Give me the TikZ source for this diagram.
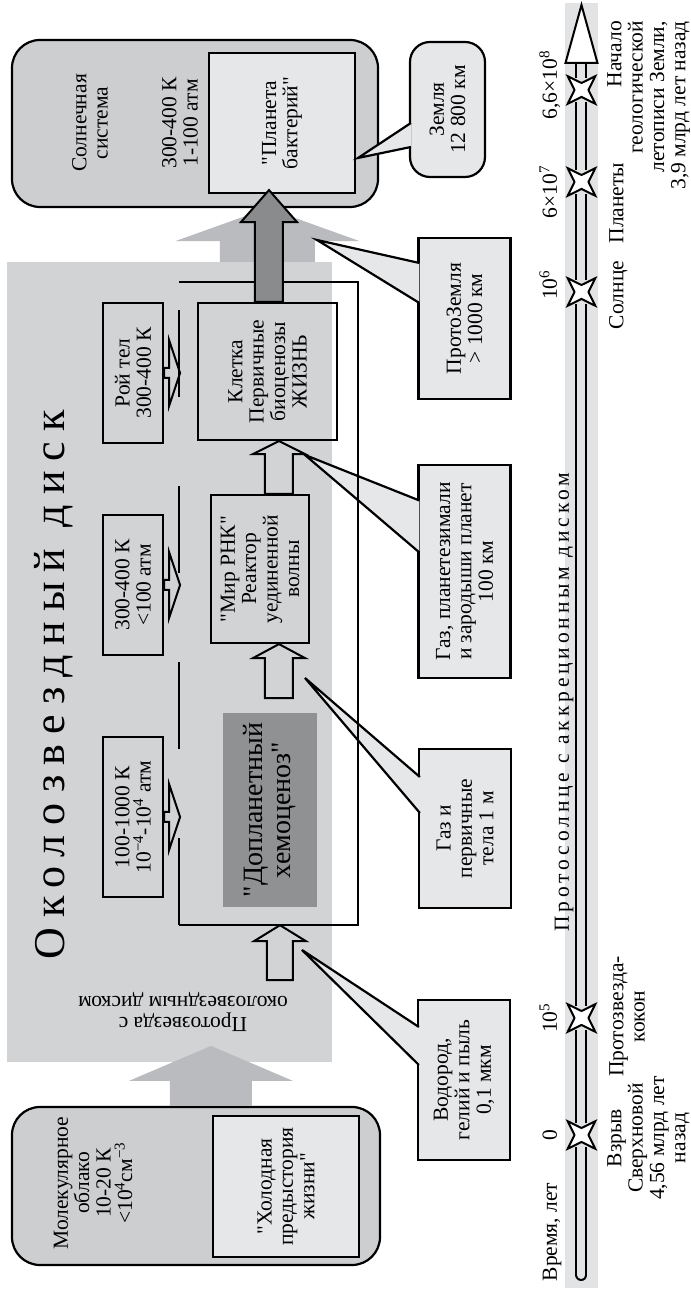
\documentclass[tikz,border=0pt]{standalone}
\usepackage{fontspec}
\setmainfont{Liberation Serif}[Ligatures=TeXOff]
\newfontfamily\widebig[LetterSpace=23, Ligatures=TeXOff]{Liberation Serif}
\newfontfamily\widesmall[LetterSpace=18, Ligatures=TeXOff]{Liberation Serif}
\usetikzlibrary{shapes.geometric, calc}

\definecolor{diskgray}{RGB}{210,211,213}
\definecolor{boxgray}{RGB}{205,206,208}
\definecolor{lightbox}{RGB}{230,231,233}
\definecolor{darkbox}{RGB}{144,145,147}
\definecolor{bigarrow}{RGB}{186,187,190}
\definecolor{darkarrow}{RGB}{138,139,141}
\definecolor{bandgray}{RGB}{226,227,229}

\begin{document}
\begin{tikzpicture}[
        x=1pt, y=1pt,
        rotate=90, transform shape,
        font=\fontsize{21.5}{21.4}\selectfont,
        txt/.style={align=center},
        roundbox/.style={
            rectangle,
            rounded corners=28pt,
            draw,
            line width=2.2pt,
            fill=boxgray
        },
        plainbox/.style={
            rectangle,
            draw,
            line width=2.2pt,
            fill=lightbox,
            align=center
        },
        tempbox/.style={
            rectangle,
            draw,
            line width=2.2pt,
            minimum height=60pt,
            align=center
        },
        stagebox/.style={
            rectangle,
            draw,
            line width=2.2pt,
            align=center
        },
        callbox/.style={
            rectangle,
            draw,
            line width=2.2pt,
            fill=lightbox,
            minimum height=92pt,
            align=center
        },
        blockarrow/.style n args={3}{
            to path={
                ($(\tikztostart)!#1!90:(\tikztotarget)$)
                -- ($(\tikztotarget)!#3!(\tikztostart)!#1!90:(\tikztotarget)$)
                -- ($(\tikztotarget)!#3!(\tikztostart)!#2!90:(\tikztotarget)$)
                -- (\tikztotarget)
                -- ($(\tikztotarget)!#3!(\tikztostart)!#2!-90:(\tikztotarget)$)
                -- ($(\tikztotarget)!#3!(\tikztostart)!#1!-90:(\tikztotarget)$)
                -- ($(\tikztostart)!#1!-90:(\tikztotarget)$)
                -- cycle
            }
        },
        hollow/.style={draw, line width=2pt},
        pointer/.style={
            to path={($(\tikztostart)+(-#1,0)$) -- (\tikztotarget) -- ($(\tikztostart)+(#1,0)$)}
        },
        callline/.style={line width=2.2pt},
        frameline/.style={line width=1.8pt},
        timestar/.style={
            star,
            star points=4,
            star point ratio=0.36,
            minimum size=14pt,
            inner sep=0pt,
            draw,
            line width=2pt,
            fill=white
        },
        timeline/.style={
            double=bandgray,
            double distance=8pt,
            line width=2pt
        }
    ]

    \useasboundingbox (0,0) rectangle (1291,691);

    % Time axis band
    \fill[bandgray] (3,93) rectangle (1288,126);

    % Circumstellar disk
    \node (disk) [fill=diskgray, inner sep=0pt, minimum width=800pt, minimum height=325pt] at (629,521.5) {};
    \node (proto) [txt, rotate=90] at (279,508) {Протозвезда с\\околозвездным диском};
    \node (title) [anchor=base west, inner sep=0pt, font=\widebig\fontsize{44}{48}\selectfont] at (331,626) {Околозвездный диск};

    % Molecular cloud
    \node (cloud) [roundbox, minimum width=158pt, minimum height=368pt] at (105,495) {};
    \node (cold) [plainbox, minimum width=141pt, minimum height=146pt] at (104.5,405) {"Холодная\\предыстория\\жизни"};
    \node (cloudtxt) [txt] at (108,598) {Молекулярное\\облако\\10-20 К\\<10\textsuperscript{4}см\textsuperscript{−3}};

    % Solar system
    \node (solar) [roundbox, minimum width=167pt, minimum height=366pt] at (1167.5,496) {};
    \node (bact) [plainbox, minimum width=140pt, minimum height=146pt] at (1168,409) {"Планета\\бактерий"};
    \node (soltxt) [txt] at (1168,601) {Солнечная\\система};
    \node (soltemp) [txt] at (1168,511) {300-400 К\\1-100 атм};

    % Conditions
    \node (tA) [tempbox, minimum width=160pt] at (474,558) {100-1000 К\\10\textsuperscript{−4}-10\textsuperscript{4} атм};
    \node (tB) [tempbox, minimum width=140pt] at (706,558) {300-400 К\\<100 атм};
    \node (tC) [tempbox, minimum width=140pt] at (918,558) {Рой тел\\300-400 К};

    % Stages
    \node (dopl) [fill=darkbox, txt, minimum width=194pt, minimum height=94pt, font=\fontsize{28}{28}\selectfont] at (481,421) {"Допланетный\\хемоценоз"};
    \node (mir) [stagebox, minimum width=148pt, minimum height=98pt] at (722,431) {"Мир РНК"\\Реактор\\уединенной\\волны};
    \node (cell) [stagebox, minimum width=137pt, minimum height=139pt] at (919.5,423.5) {Клетка\\Первичные\\биоценозы\\ЖИЗНЬ};
    \node (frame) [inner sep=0pt, minimum width=643pt, minimum height=179pt] at (687.5,422.5) {};

    % Big grey arrows
    \coordinate (g1tail) at ($(cloud.east)+(0,-15)$);
    \coordinate (g1tip) at ($(cloud.east)+(60,-15)$);
    \fill[bigarrow, blockarrow={41pt}{82pt}{35pt}] (g1tail) to (g1tip);
    \coordinate (g2tail) at ($(disk.east)+(0,-98)$);
    \coordinate (g2tip) at ($(solar.west)+(0,-72.5)$);
    \fill[bigarrow, blockarrow={47.5pt}{92pt}{33pt}] (g2tail) to (g2tip);

    % Callouts
    \node (c1) [callbox, minimum width=160pt] at (211,227) {Водород,\\гелий и пыль\\0,1 мкм};
    \node (c2) [callbox, minimum width=159pt] at (462.5,226) {Газ и\\первичные\\тела 1 м};
    \node (c3) [callbox, minimum width=213pt] at (719.5,226.5) {Газ, планетезимали\\и зародыши планет\\100 км};
    \node (c4) [callbox, minimum width=161pt] at (972.5,226.5) {ПротоЗемля\\> 1000 км};
    \node (c5) [callbox, rounded corners=20pt, minimum width=135pt, minimum height=75pt] at (1181.5,243.5) {Земля\\12 800 км};

    \coordinate (c1b) at ($(c1.north)+(34,-2)$);
    \coordinate (c2b) at ($(c2.north)+(33.5,-2)$);
    \coordinate (c3b) at ($(c3.north)+(45,-2)$);
    \coordinate (c4b) at ($(c4.north)+(35.5,-2)$);
    \coordinate (c5b) at ($(c5.north)+(-25.5,-2)$);
    \coordinate (p1) at (341,389);
    \coordinate (p2) at (613,386);
    \coordinate (p3) at (836,386);
    \coordinate (p4) at (1051,374);
    \coordinate (p5) at (1133,333);

    \fill[lightbox] (c1b) to[pointer=19] (p1) -- cycle;
    \draw[callline] (c1b) to[pointer=19] (p1);
    \fill[lightbox] (c2b) to[pointer=18] (p2) -- cycle;
    \draw[callline] (c2b) to[pointer=18] (p2);
    \fill[lightbox] (c3b) to[pointer=26] (p3) -- cycle;
    \draw[callline] (c3b) to[pointer=26] (p3);
    \fill[lightbox] (c4b) to[pointer=20] (p4) -- cycle;
    \draw[callline] (c4b) to[pointer=20] (p4);
    \fill[lightbox] (c5b) to[pointer=12] (p5) -- cycle;
    \draw[callline] (c5b) to[pointer=12] (p5);

    % Frame round the stages
    \draw[frameline] (frame.north east) -- (frame.south east) -- (frame.south west) -- (frame.north west);
    \draw[frameline, dash pattern=on 87pt off 89pt] (frame.north west) -- (frame.north east);

    % Small arrows from conditions
    \coordinate (tAtip) at ($(tA.south)+(0,-16)$);
    \coordinate (tBtip) at ($(tB.south)+(0,-16)$);
    \coordinate (tCtip) at ($(tC.south)+(0,-16)$);
    \draw[hollow, blockarrow={5pt}{33pt}{11pt}] (tA.south) to (tAtip);
    \draw[hollow, blockarrow={5pt}{33pt}{11pt}] (tB.south) to (tBtip);
    \draw[hollow, blockarrow={5pt}{33pt}{11pt}] (tC.south) to (tCtip);

    % Stage arrows
    \coordinate (a1tip) at ($(frame.west)+(0,-11.5)$);
    \coordinate (a1tail) at ($(a1tip)+(-55,0)$);
    \draw[hollow, blockarrow={13pt}{26pt}{16pt}] (a1tail) to (a1tip);
    \coordinate (a2tip) at ($(mir.west)+(0,-19)$);
    \coordinate (a2tail) at ($(a2tip)+(-54,0)$);
    \draw[hollow, blockarrow={14pt}{26pt}{14pt}] (a2tail) to (a2tip);
    \coordinate (a3tail) at ($(mir.east)+(0,-19)$);
    \coordinate (a3tip) at ($(cell.west)+(0,-11.5)$);
    \draw[hollow, blockarrow={14pt}{26pt}{13pt}] (a3tail) to (a3tip);
    \coordinate (a4tail) at ($(cell.east)+(0,-1.5)$);
    \coordinate (a4tip) at ($(bact.west)+(4,13)$);
    \draw[hollow, fill=darkarrow, blockarrow={14pt}{28pt}{32pt}] (a4tail) to (a4tip);

    % Time axis
    \node (s0) [timestar] at (156,109.5) {};
    \node (s5) [timestar] at (273,109.5) {};
    \node (s6) [timestar] at (999,109.5) {};
    \node (s7) [timestar] at (1109,109.5) {};
    \node (s8) [timestar] at (1201,109.5) {};
    \coordinate (tstart) at (16,109.5);
    \coordinate (tbase) at (1228,109.5);
    \draw[timeline, line cap=round] (tstart) -- ++(40,0);
    \draw[timeline, shorten >=4pt] ($(tstart)+(30,0)$) -- (s0);
    \draw[timeline, shorten <=4pt, shorten >=4pt] (s0) -- (s5);
    \draw[timeline, shorten <=4pt, shorten >=4pt] (s5) -- (s6);
    \draw[timeline, shorten <=4pt, shorten >=4pt] (s6) -- (s7);
    \draw[timeline, shorten <=4pt, shorten >=4pt] (s7) -- (s8);
    \draw[timeline, shorten <=4pt] (s8) -- (tbase);
    \draw[line width=2pt, fill=white] (tbase) ++(0,16) -- ++(58,-16) -- ++(-58,-16) -- cycle;

    \node (axis) [anchor=base west, inner sep=0pt, font=\widesmall\fontsize{21.5}{24}\selectfont] at (359,122) {Протосолнце с аккреционным диском};

    % Time labels
    \node (tunit) [anchor=base, inner sep=0pt] at (59,134) {Время, лет};
    \node (l0) [anchor=base, inner sep=0pt] at (156,134) {0};
    \node (l5) [anchor=base, inner sep=0pt] at (273,134) {10\textsuperscript{5}};
    \node (l6) [anchor=base, inner sep=0pt] at (1006,134) {10\textsuperscript{6}};
    \node (l7) [anchor=base, inner sep=0pt] at (1099,134) {6×10\textsuperscript{7}};
    \node (l8) [anchor=base, inner sep=0pt] at (1206,134) {6,6×10\textsuperscript{8}};

    \node (e0) [txt, anchor=north, inner sep=0pt] at (153,84) {Взрыв\\Сверхновой\\4,56 млрд лет\\назад};
    \node (e5) [txt, anchor=north, inner sep=0pt] at (274.5,82) {Протозвезда-\\кокон};
    \node (e6) [anchor=north, inner sep=0pt] at (996,82) {Солнце};
    \node (e7) [anchor=north, inner sep=0pt] at (1088,82) {Планеты};
    \node (e8) [align=right, anchor=north east, inner sep=0pt] at (1270,84) {Начало\\геологической\\летописи Земли,\\3,9 млрд лет назад};

\end{tikzpicture}
\end{document}
